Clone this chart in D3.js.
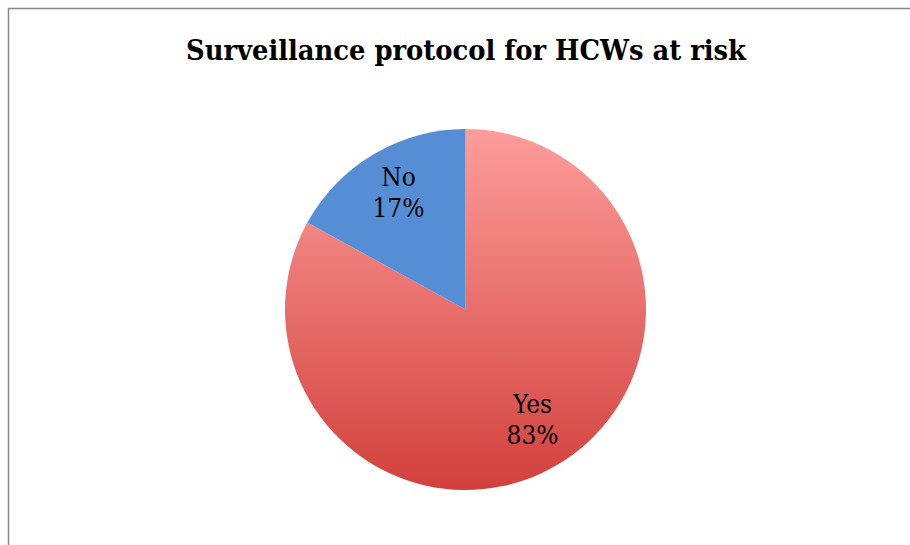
<!DOCTYPE html>
<html>
<head>
<meta charset="utf-8">
<script src="https://cdnjs.cloudflare.com/ajax/libs/d3/7.8.5/d3.min.js"></script>
<style>
  body { margin: 0; background: #fff; }
  svg { display: block; }
</style>
</head>
<body>
<div id="chart"></div>
<script>
var title = "Surveillance protocol for HCWs at risk";
var categories = ["Yes", "No"];
var values = [83, 17];
var colorsTop = ["#fd9d9b", "#558ed5"];
var colorsBottom = ["#d2403c", "#558ed5"];

var width = 910, height = 545;
var cx = 465.5, cy = 309.5, radius = 180.5;
var serif = "'DejaVu Serif Condensed', 'DejaVu Serif', serif";

var svg = d3.select("#chart").append("svg")
  .attr("width", width)
  .attr("height", height);

// chart frame (runs off the right / bottom edge)
svg.append("rect")
  .attr("x", 8.5).attr("y", 8.5)
  .attr("width", 1000).attr("height", 1000)
  .attr("fill", "none")
  .attr("stroke", "#898989")
  .attr("stroke-width", 1.5);

svg.append("text")
  .attr("x", 466).attr("y", 60)
  .attr("text-anchor", "middle")
  .style("font-family", serif)
  .style("font-weight", "bold")
  .style("font-size", "28.7px")
  .text(title);

var defs = svg.append("defs");
categories.forEach(function(c, i) {
  // userSpaceOnUse -> coordinates of the translated pie group
  var g = defs.append("linearGradient")
    .attr("id", "grad" + i)
    .attr("gradientUnits", "userSpaceOnUse")
    .attr("x1", 0).attr("y1", -radius)
    .attr("x2", 0).attr("y2", radius);
  g.append("stop").attr("offset", "0%").attr("stop-color", colorsTop[i]);
  g.append("stop").attr("offset", "100%").attr("stop-color", colorsBottom[i]);
});

var data = categories.map(function(c, i) { return { name: c, value: values[i], idx: i }; });

var pie = d3.pie().sort(null).value(function(d) { return d.value; });
var arc = d3.arc().innerRadius(0).outerRadius(radius);
var labelArc = d3.arc().innerRadius(radius * 0.73).outerRadius(radius * 0.73);

var g = svg.append("g").attr("transform", "translate(" + cx + "," + cy + ")");
var arcs = pie(data);

g.selectAll("path")
  .data(arcs).enter()
  .append("path")
  .attr("d", arc)
  .attr("fill", function(d) { return "url(#grad" + d.data.idx + ")"; });

var labels = g.selectAll("text.lbl")
  .data(arcs).enter()
  .append("text")
  .attr("class", "lbl")
  .attr("text-anchor", "middle")
  .style("font-family", serif)
  .style("font-size", "26px")
  .attr("transform", function(d) {
    var p = labelArc.centroid(d);
    return "translate(" + p[0] + "," + (p[1] - 3) + ")";
  });
labels.append("tspan").attr("x", 0).attr("y", -7).text(function(d) { return d.data.name; });
labels.append("tspan").attr("x", 0).attr("y", 24).text(function(d) { return d.data.value + "%"; });
</script>
</body>
</html>
